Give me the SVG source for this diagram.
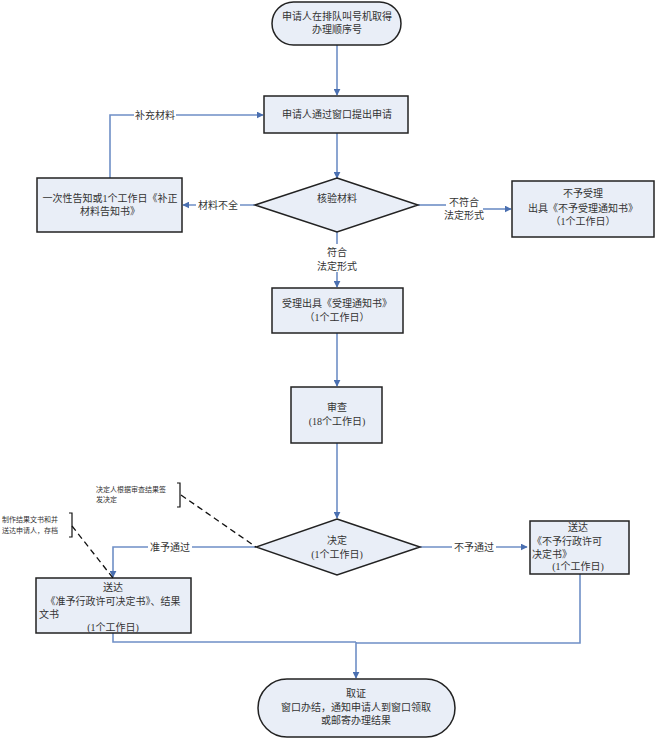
<svg xmlns="http://www.w3.org/2000/svg" width="660" height="739" viewBox="0 0 660 739">
<style>
.n{fill:#e9eef7;stroke:#222;stroke-width:1.5}
.t{font-family:"Liberation Serif","Noto Sans CJK SC",serif;font-size:10px;fill:#333;text-anchor:middle}
.tl{text-anchor:start}
.s{font-size:7px;text-anchor:start}
.c{fill:none;stroke:#6f8fc6;stroke-width:1.6}
.d{fill:none;stroke:#111;stroke-width:1.3;stroke-dasharray:6,4}
.b{fill:none;stroke:#111;stroke-width:1.2}
.lb{fill:#fff}
</style>
<defs>
<marker id="a" viewBox="0 0 10 10" refX="9" refY="5" markerWidth="7" markerHeight="7" markerUnits="userSpaceOnUse" orient="auto">
<path d="M0,0L10,5L0,10z" fill="#4a6fb0"/>
</marker>
</defs>
<rect width="660" height="739" fill="#fff"/>
<g id="connectors">
<path class="c" d="M337,45V95" marker-end="url(#a)"/>
<path class="c" d="M337,133V178" marker-end="url(#a)"/>
<path class="c" d="M255,205H183" marker-end="url(#a)"/>
<path class="c" d="M110,178V115H263" marker-end="url(#a)"/>
<path class="c" d="M418,205H446"/>
<path class="c" d="M483,209H511" marker-end="url(#a)"/>
<path class="c" d="M337,232V287" marker-end="url(#a)"/>
<path class="c" d="M337,333V386" marker-end="url(#a)"/>
<path class="c" d="M337,443V518" marker-end="url(#a)"/>
<path class="c" d="M256,547H113V577" marker-end="url(#a)"/>
<path class="c" d="M420,547H527" marker-end="url(#a)"/>
<path class="c" d="M113,633V642H356"/>
<path class="c" d="M580,574V643H356"/>
<path class="c" d="M356,642V678" marker-end="url(#a)"/>
<rect class="lb" x="134" y="109" width="42" height="12"/>
<text class="t" x="155" y="119">补充材料</text>
<rect class="lb" x="196" y="199" width="44" height="12"/>
<text class="t" x="218" y="209">材料不全</text>
<text class="t" x="464" y="206">不符合</text>
<text class="t" x="464" y="219">法定形式</text>
<rect class="lb" x="315" y="244" width="44" height="28"/>
<text class="t" x="337" y="256">符合</text>
<text class="t" x="337" y="270">法定形式</text>
<rect class="lb" x="148" y="541" width="44" height="12"/>
<text class="t" x="170" y="551">准予通过</text>
<rect class="lb" x="452" y="541" width="44" height="12"/>
<text class="t" x="474" y="551">不予通过</text>
</g>
<g id="start">
<rect class="n" x="272" y="2" width="129" height="43" rx="21.5"/>
<text class="t" x="337" y="20">申请人在排队叫号机取得</text>
<text class="t" x="337" y="33">办理顺序号</text>
</g>
<g id="apply">
<rect class="n" x="264" y="96" width="144" height="37"/>
<text class="t" x="337" y="118">申请人通过窗口提出申请</text>
</g>
<g id="check">
<path class="n" d="M337,178L418,205L337,232L255,205z"/>
<text class="t" x="337" y="202">核验材料</text>
</g>
<g id="notice">
<rect class="n" x="37" y="178" width="145" height="54"/>
<text class="t" x="110" y="202">一次性告知或1个工作日《补正</text>
<text class="t" x="110" y="215">材料告知书》</text>
</g>
<g id="reject">
<rect class="n" x="512" y="181" width="142" height="56"/>
<text class="t" x="583" y="197">不予受理</text>
<text class="t" x="583" y="212">出具《不予受理通知书》</text>
<text class="t" x="583" y="225">（1个工作日）</text>
</g>
<g id="accept">
<rect class="n" x="272" y="288" width="131" height="45"/>
<text class="t" x="337" y="307">受理出具《受理通知书》</text>
<text class="t" x="337" y="321">（1个工作日）</text>
</g>
<g id="review">
<rect class="n" x="291" y="387" width="91" height="56"/>
<text class="t" x="337" y="411">审查</text>
<text class="t" x="337" y="425">(18个工作日)</text>
</g>
<g id="decide">
<path class="n" d="M337,519L420,547L337,575L256,547z"/>
<text class="t" x="337" y="544">决定</text>
<text class="t" x="337" y="558">(1个工作日)</text>
</g>
<g id="grant">
<rect class="n" x="36" y="578" width="155" height="55"/>
<text class="t" x="113" y="591">送达</text>
<text class="t" x="113" y="605">《准予行政许可决定书》、结果</text>
<text class="t tl" x="39" y="618">文书</text>
<text class="t" x="113" y="631">(1个工作日)</text>
</g>
<g id="deny">
<rect class="n" x="530" y="521" width="99" height="53"/>
<text class="t" x="578" y="531">送达</text>
<text class="t tl" x="532" y="545">《不予行政许可</text>
<text class="t tl" x="532" y="558">决定书》</text>
<text class="t" x="578" y="570">(1个工作日)</text>
</g>
<g id="end">
<rect class="n" x="258" y="679" width="197" height="58" rx="29"/>
<text class="t" x="356" y="697">取证</text>
<text class="t" x="356" y="711">窗口办结，通知申请人到窗口领取</text>
<text class="t" x="356" y="724">或邮寄办理结果</text>
</g>
<g id="note-decide">
<text class="t s" x="96" y="492">决定人根据审查结果签</text>
<text class="t s" x="96" y="502">发决定</text>
<path class="b" d="M177,483H180V507H177"/>
<path class="d" d="M181,495L256,547"/>
</g>
<g id="note-grant">
<text class="t s" x="2" y="522">制作结果文书和并</text>
<text class="t s" x="2" y="533">送达申请人，存档</text>
<path class="b" d="M69,513H72V537H69"/>
<path class="d" d="M72,526L113,578"/>
</g>
</svg>
